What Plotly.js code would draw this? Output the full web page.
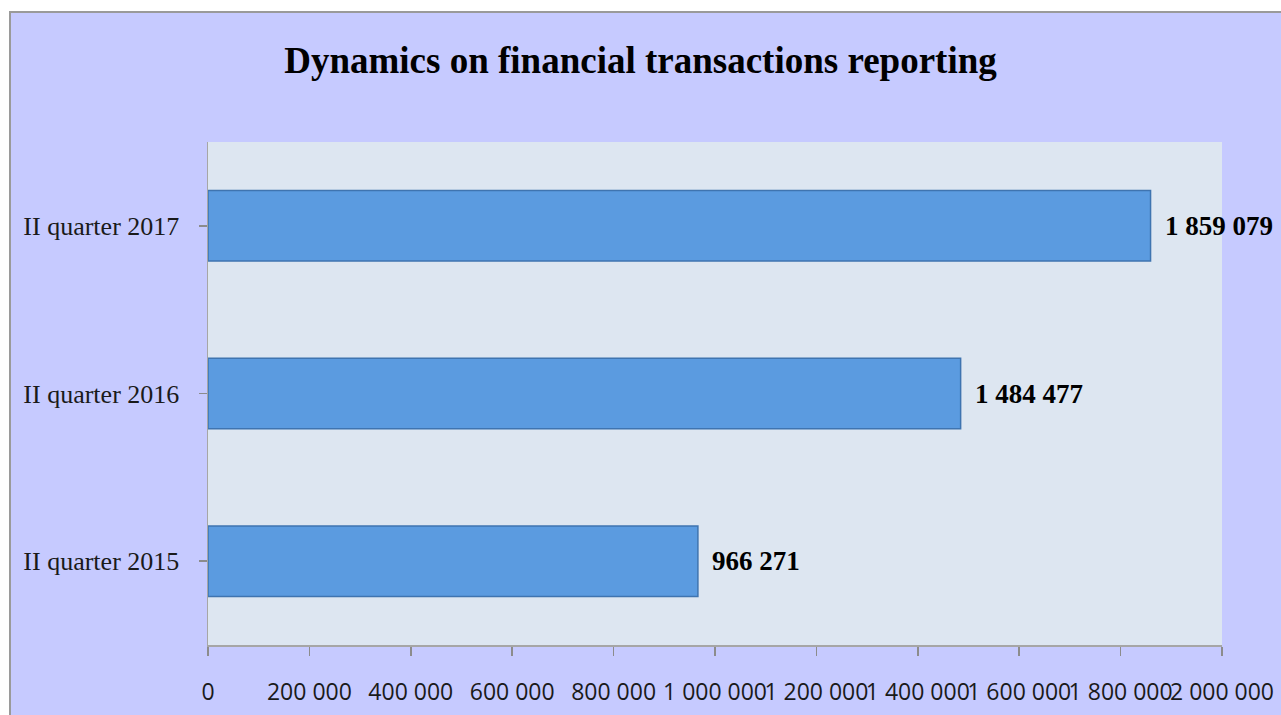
<!DOCTYPE html>
<html>
<head>
<meta charset="utf-8">
<script src="https://cdn.plot.ly/plotly-3.0.1.min.js"></script>
<style>
  html, body { margin: 0; padding: 0; background: #ffffff; width: 1281px; height: 715px; overflow: hidden; }
  #bg { position: absolute; left: 9px; top: 11px; width: 1272px; height: 704px; background: #c6caff; border-left: 2px solid #9a9a9a; border-top: 2px solid #9a9a9a; box-sizing: border-box; }
  #chart { position: absolute; left: 0; top: 0; width: 1281px; height: 715px; }
</style>
</head>
<body>
<div id="bg"></div>
<div id="chart"></div>
<script>
const categories = ["II quarter 2015", "II quarter 2016", "II quarter 2017"];
const values = [966271, 1484477, 1859079];
const valueLabels = ["966 271", "1 484 477", "1 859 079"];
const tickValues = [0, 200000, 400000, 600000, 800000, 1000000, 1200000, 1400000, 1600000, 1800000, 2000000];
const tickLabels = ["0", "200 000", "400 000", "600 000", "800 000", "1 000 000", "1 200 000", "1 400 000", "1 600 000", "1 800 000", "2 000 000"];
const chartTitle = "Dynamics on financial transactions reporting";

const trace = {
  type: "bar",
  orientation: "h",
  x: values,
  y: categories,
  marker: { color: "#5b9be0", line: { color: "#3f74b0", width: 1.5 } },
  hoverinfo: "skip"
};

const annotations = categories.map((c, i) => ({
  x: values[i], y: c, xref: "x", yref: "y",
  text: valueLabels[i], showarrow: false, xanchor: "left", yanchor: "middle",
  xshift: 12,
  font: { family: "Liberation Serif, Times New Roman, serif", size: 27, color: "#000000", weight: "bold" }
}));

const layout = {
  width: 1281, height: 715,
  paper_bgcolor: "rgba(0,0,0,0)",
  plot_bgcolor: "#dde6f1",
  margin: { l: 208, r: 59, t: 142, b: 70 },
  title: {
    text: "<b>" + chartTitle + "</b>",
    font: { family: "Liberation Serif, Times New Roman, serif", size: 37, color: "#000000" },
    x: 0.5, xref: "container", xanchor: "center",
    y: 1 - 60 / 715, yref: "container", yanchor: "middle"
  },
  showlegend: false,
  bargap: 0.58,
  xaxis: {
    range: [0, 2000000],
    tickvals: tickValues,
    ticktext: tickLabels,
    tickangle: 0,
    ticks: "outside", ticklen: 9, tickcolor: "#8c8c8c", tickwidth: 1.5,
    showline: true, linecolor: "#a6a6a6", linewidth: 1.5,
    showgrid: false, zeroline: false,
    tickfont: { family: "Open Sans, sans-serif", size: 23, color: "#1a1a1a" },
    ticklabelstandoff: 17,
    fixedrange: true
  },
  yaxis: {
    categoryorder: "array", categoryarray: categories,
    ticks: "outside", ticklen: 8, tickcolor: "#8c8c8c", tickwidth: 1.5,
    showline: true, linecolor: "#a6a6a6", linewidth: 1.5,
    showgrid: false, zeroline: false,
    tickfont: { family: "Liberation Serif, Times New Roman, serif", size: 26, color: "#1a1a1a" },
    ticklabelstandoff: 14,
    fixedrange: true
  },
  annotations: annotations
};

Plotly.newPlot("chart", [trace], layout, { displayModeBar: false, staticPlot: true });
</script>
</body>
</html>
